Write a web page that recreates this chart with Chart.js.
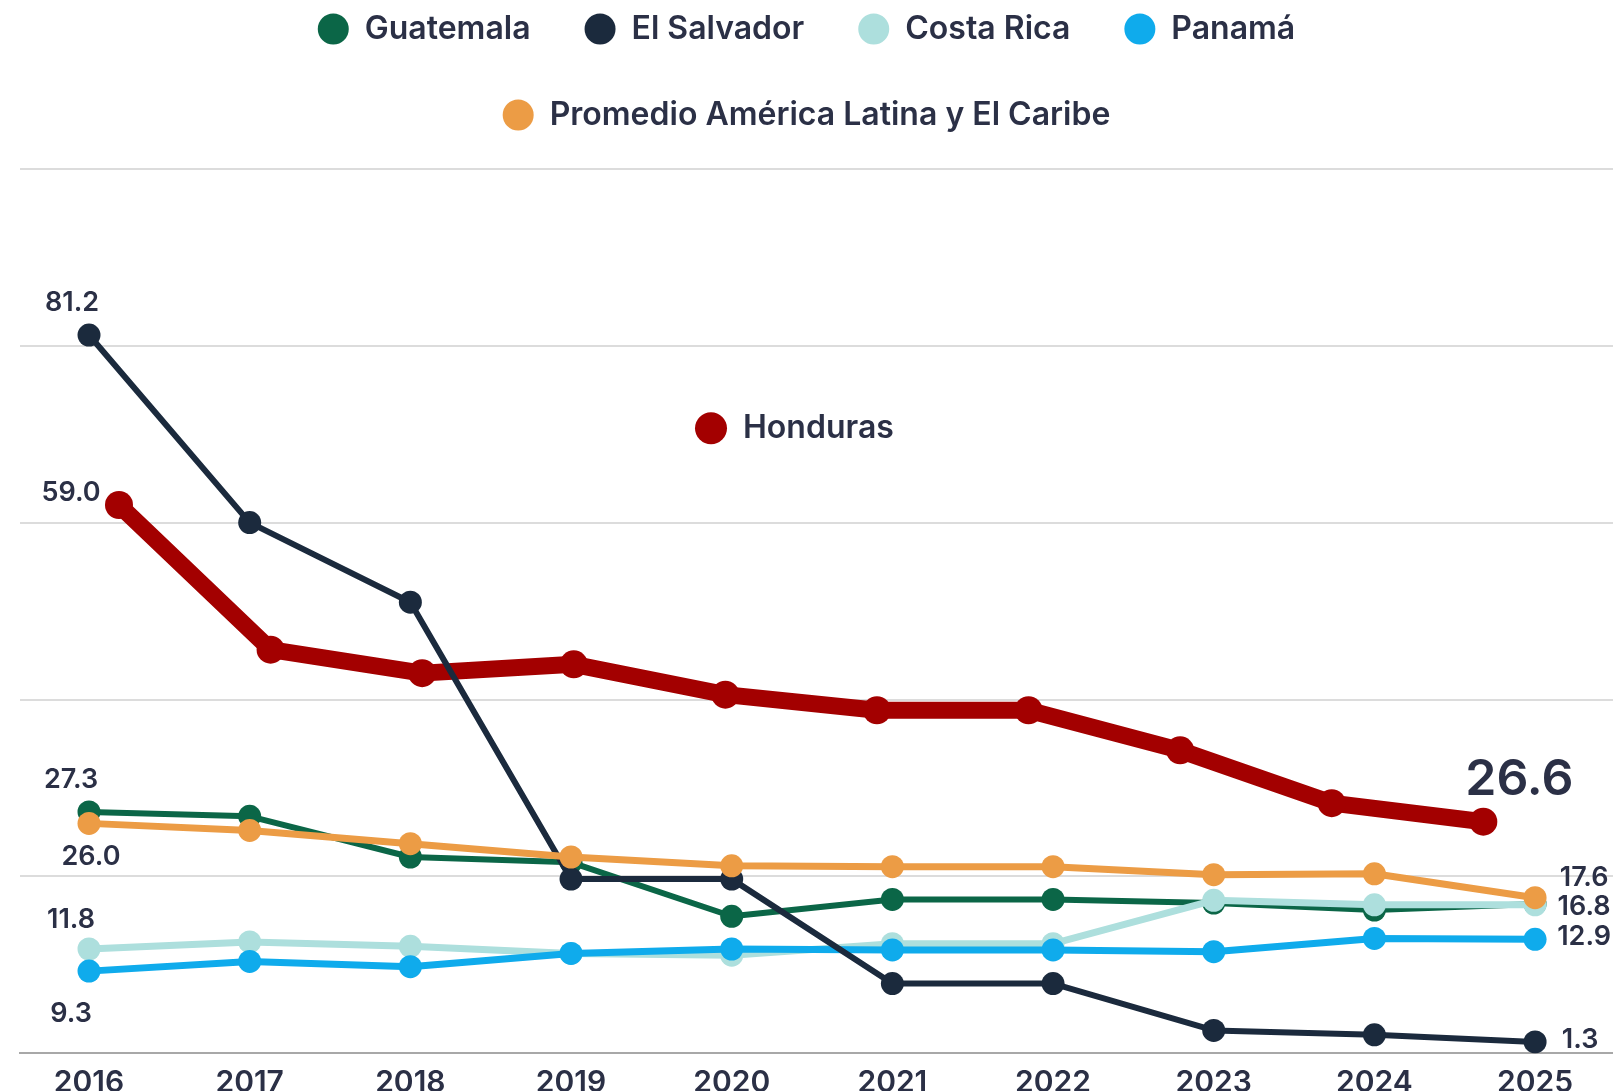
<!DOCTYPE html>
<html>
<head>
<meta charset="utf-8">
<script src="https://cdn.jsdelivr.net/npm/chart.js@4.4.1/dist/chart.umd.min.js"></script>
<style>
  html, body { margin: 0; padding: 0; background: #fff; }
</style>
</head>
<body>
<canvas id="chart" width="1613" height="1091"></canvas>
<script>
// valores (tasa por 100 mil hab.)
const years = [2016, 2017, 2018, 2019, 2020, 2021, 2022, 2023, 2024, 2025];
const guatemala = [27.3, 26.8, 22.2, 21.6, 15.5, 17.4, 17.4, 17.0, 16.2, 16.9];
const elSalvador = [81.2, 60.0, 51.0, 19.7, 19.7, 7.9, 7.9, 2.6, 2.1, 1.3];
const costaRica = [11.8, 12.6, 12.1, 11.3, 11.1, 12.4, 12.4, 17.3, 16.8, 16.8];
const panama = [9.3, 10.4, 9.8, 11.3, 11.8, 11.7, 11.7, 11.5, 13.0, 12.9];
const promedio = [26.0, 25.2, 23.7, 22.2, 21.2, 21.1, 21.1, 20.2, 20.3, 17.6];
const honduras = [59.0, 44.2, 41.8, 42.7, 39.6, 38.0, 38.0, 33.9, 28.5, 26.6];

const TEXT = '#2b3046';
const FONT = 'Inter, "Noto Sans", sans-serif';

const points = values => values.map((v, i) => ({ x: years[i], y: v }));

function lineSet(label, values, color, width, radius, order, valueLabels) {
  return {
    label,
    data: points(values),
    borderColor: color,
    backgroundColor: color,
    pointBackgroundColor: color,
    pointBorderWidth: 0,
    borderWidth: width,
    pointRadius: radius,
    pointHoverRadius: radius,
    borderJoinStyle: 'round',
    borderCapStyle: 'round',
    tension: 0,
    order,
    valueLabels
  };
}

// etiquetas de valor al inicio / final de cada serie
const valueLabels = {
  id: 'valueLabels',
  afterDatasetsDraw(chart) {
    const ctx = chart.ctx;
    chart.data.datasets.forEach((ds, i) => {
      const meta = chart.getDatasetMeta(i);
      (ds.valueLabels || []).forEach(l => {
        const idx = l.index < 0 ? ds.data.length - 1 : l.index;
        const pt = meta.data[idx];
        ctx.save();
        ctx.font = `600 ${l.size || 27}px ${FONT}`;
        ctx.fillStyle = TEXT;
        ctx.textAlign = 'center';
        ctx.textBaseline = 'middle';
        ctx.fillText(ds.data[idx].y.toFixed(1), pt.x + l.dx, pt.y + l.dy);
        ctx.restore();
      });
    });
  }
};

// etiqueta suelta de Honduras dentro del área
const hondurasTag = {
  id: 'hondurasTag',
  afterDraw(chart) {
    const { ctx, chartArea } = chart;
    const x = chartArea.left + 691;
    const y = chartArea.top + 259.5;
    ctx.save();
    ctx.fillStyle = '#a30000';
    ctx.beginPath();
    ctx.arc(x, y, 16, 0, Math.PI * 2);
    ctx.fill();
    ctx.fillStyle = TEXT;
    ctx.font = `600 32px ${FONT}`;
    ctx.textAlign = 'left';
    ctx.textBaseline = 'middle';
    ctx.fillText('Honduras', x + 32, y);
    ctx.restore();
  }
};

// más espacio bajo la leyenda
const legendSpace = {
  id: 'legendSpace',
  beforeInit(chart) {
    const fit = chart.legend.fit;
    chart.legend.fit = function () {
      fit.call(this);
      this.height = 209.7;
    };
  }
};

new Chart(document.getElementById('chart'), {
  type: 'line',
  data: {
    datasets: [
      lineSet('Guatemala', guatemala, '#0b6647', 6, 11.5, 4, [{ index: 0, dx: -18, dy: -32 }]),
      lineSet('El Salvador', elSalvador, '#1b2a3d', 6, 11.5, 1, [{ index: 0, dx: -17, dy: -32 }, { index: -1, dx: 45, dy: -2 }]),
      lineSet('Costa Rica', costaRica, '#addfdd', 7, 11.5, 3, [{ index: 0, dx: -18, dy: -29 }, { index: -1, dx: 49, dy: 2 }]),
      lineSet('Panamá', panama, '#0fabec', 7, 11.5, 2, [{ index: 0, dx: -18, dy: 43 }, { index: -1, dx: 49, dy: -2 }]),
      lineSet('Promedio América Latina y El Caribe', promedio, '#ec9c45', 7, 11.5, 0, [{ index: 0, dx: 2, dy: 33 }, { index: -1, dx: 49, dy: -20 }]),
      Object.assign(
        lineSet('Honduras', honduras, '#a30000', 17, 14, 5, [{ index: 0, dx: -48, dy: -12 }, { index: -1, dx: 36, dy: -42, size: 50 }]),
        { xAxisID: 'x2', yAxisID: 'y2' }
      )
    ]
  },
  options: {
    responsive: false,
    animation: false,
    layout: { autoPadding: false, padding: { top: -41, left: 0, right: 0, bottom: 0 } },
    plugins: {
      legend: {
        position: 'top',
        labels: {
          usePointStyle: true,
          pointStyle: 'circle',
          pointStyleWidth: 31,
          boxWidth: 31,
          boxHeight: 22,
          padding: 54,
          color: TEXT,
          font: { family: FONT, size: 32, weight: '600' },
          filter: item => item.text !== 'Honduras',
          sort: (a, b) => a.datasetIndex - b.datasetIndex
        }
      },
      tooltip: { enabled: false }
    },
    scales: {
      x: {
        type: 'linear',
        min: 2015.5705,
        max: 2025.485,
        afterBuildTicks: s => { s.ticks = years.map(v => ({ value: v })); },
        afterFit: s => { s.height = 37.6; s.paddingLeft = 0; s.paddingRight = 0; },
        ticks: {
          callback: v => String(v),
          color: TEXT,
          font: { family: FONT, size: 30, weight: '600' },
          padding: 4,
          autoSkip: false,
          maxRotation: 0
        },
        grid: { display: false },
        border: { color: '#a8a8a8', width: 2 }
      },
      x2: { type: 'linear', display: false, min: 2015.3469, max: 2025.8555 },
      y: {
        min: 0,
        max: 100,
        afterFit: s => { s.width = 20; },
        ticks: { stepSize: 20, display: false },
        grid: { color: '#dcdcdc', lineWidth: 2, drawTicks: false },
        border: { display: false }
      },
      y2: { type: 'linear', display: false, min: 2.9, max: 93.4 }
    }
  },
  plugins: [legendSpace, valueLabels, hondurasTag]
});
</script>
</body>
</html>
